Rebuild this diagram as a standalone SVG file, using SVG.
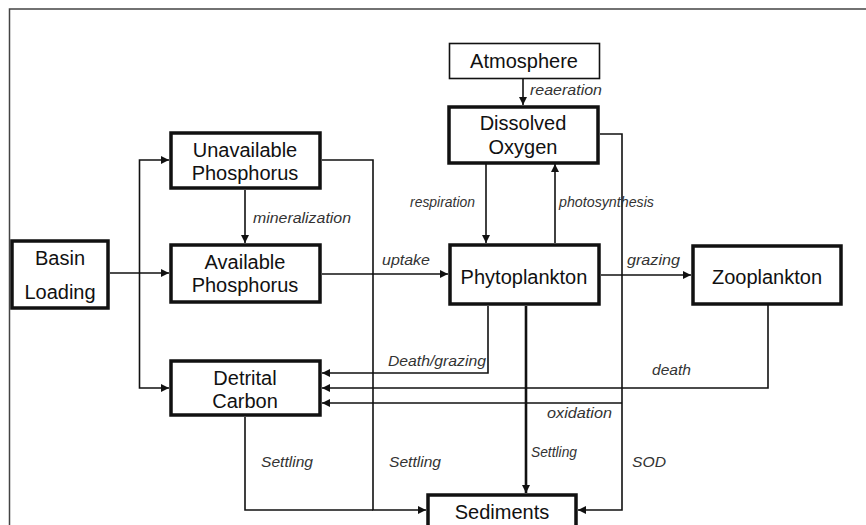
<svg xmlns="http://www.w3.org/2000/svg" width="866" height="525" viewBox="0 0 866 525">
<defs>
<marker id="ah" markerUnits="userSpaceOnUse" markerWidth="9" markerHeight="9" refX="8" refY="4" orient="auto">
<path d="M0,0 L8,4 L0,8 z" fill="#111"/>
</marker>
<style>
.node rect{fill:#fff;stroke:#111;stroke-width:3.5}
.node.thin rect{stroke-width:1.6}
.node text{font-family:"Liberation Sans",Arial,sans-serif;font-size:20px;fill:#111;text-anchor:middle}
.conn path{fill:none;stroke:#111;stroke-width:1.6}
.conn path.arr{marker-end:url(#ah)}
.conn path.thick{stroke-width:2.6}
.lbl{font-family:"Liberation Sans",Arial,sans-serif;font-size:15px;font-style:italic;fill:#333}
</style>
</defs>
<rect width="866" height="525" fill="#fff"/>
<rect x="9.5" y="9" width="880" height="540" fill="none" stroke="#444" stroke-width="1.5"/>

<g id="connectors" class="conn">
<path class="arr" d="M110,273 H169"/>
<path class="arr" d="M139.5,273 V160 H169"/>
<path class="arr" d="M139.5,273 V388 H169"/>
<path class="arr" d="M245,190 V243"/>
<path class="arr" d="M322,160 H373 V510 H426"/>
<path d="M245,417 V510 H373"/>
<path class="arr" d="M322,274 H448"/>
<path class="arr" d="M523,79 V105"/>
<path class="arr" d="M486,164 V243"/>
<path class="arr" d="M555,243 V164"/>
<path class="arr" d="M600,134 H622 V510 H578"/>
<path class="arr" d="M601,275 H691"/>
<path class="arr" d="M488,306 V373 H322"/>
<path class="arr" d="M768,305 V388 H322"/>
<path class="arr" d="M622,403 H322"/>
<path class="arr thick" d="M526,306 V493"/>
<text class="lbl" x="253" y="223" textLength="98" lengthAdjust="spacingAndGlyphs">mineralization</text>
<text class="lbl" x="410" y="207" textLength="65" lengthAdjust="spacingAndGlyphs">respiration</text>
<text class="lbl" x="559" y="207" textLength="95" lengthAdjust="spacingAndGlyphs">photosynthesis</text>
<text class="lbl" x="530" y="95" textLength="72" lengthAdjust="spacingAndGlyphs">reaeration</text>
<text class="lbl" x="382" y="265" textLength="48" lengthAdjust="spacingAndGlyphs">uptake</text>
<text class="lbl" x="627" y="265" textLength="53" lengthAdjust="spacingAndGlyphs">grazing</text>
<text class="lbl" x="388" y="366" textLength="98" lengthAdjust="spacingAndGlyphs">Death/grazing</text>
<text class="lbl" x="652" y="375" textLength="39" lengthAdjust="spacingAndGlyphs">death</text>
<text class="lbl" x="547" y="418" textLength="65" lengthAdjust="spacingAndGlyphs">oxidation</text>
<text class="lbl" x="261" y="467" textLength="52" lengthAdjust="spacingAndGlyphs">Settling</text>
<text class="lbl" x="389" y="467" textLength="52" lengthAdjust="spacingAndGlyphs">Settling</text>
<text class="lbl" x="531" y="457" textLength="46" lengthAdjust="spacingAndGlyphs">Settling</text>
<text class="lbl" x="632" y="467" textLength="34" lengthAdjust="spacingAndGlyphs">SOD</text>
</g>

<g id="basin" class="node"><rect x="12" y="241" width="96" height="67"/><text x="60" y="265">Basin</text><text x="60" y="299">Loading</text></g>
<g id="unavailable" class="node"><rect x="171" y="133" width="149" height="55"/><text x="245" y="157">Unavailable</text><text x="245" y="180">Phosphorus</text></g>
<g id="available" class="node"><rect x="171" y="245" width="149" height="57"/><text x="245" y="269">Available</text><text x="245" y="292">Phosphorus</text></g>
<g id="detrital" class="node"><rect x="171" y="361" width="149" height="54"/><text x="245" y="385">Detrital</text><text x="245" y="408">Carbon</text></g>
<g id="atmosphere" class="node thin"><rect x="449.5" y="43.5" width="150" height="35"/><text x="524" y="68">Atmosphere</text></g>
<g id="oxygen" class="node"><rect x="449" y="107" width="149" height="56"/><text x="523" y="130">Dissolved</text><text x="523" y="154">Oxygen</text></g>
<g id="phyto" class="node"><rect x="450" y="245" width="149" height="59"/><text x="524" y="284">Phytoplankton</text></g>
<g id="zoo" class="node"><rect x="693" y="246" width="148" height="58"/><text x="767" y="284">Zooplankton</text></g>
<g id="sediments" class="node"><rect x="428" y="495" width="148" height="40"/><text x="502" y="519">Sediments</text></g>
</svg>
